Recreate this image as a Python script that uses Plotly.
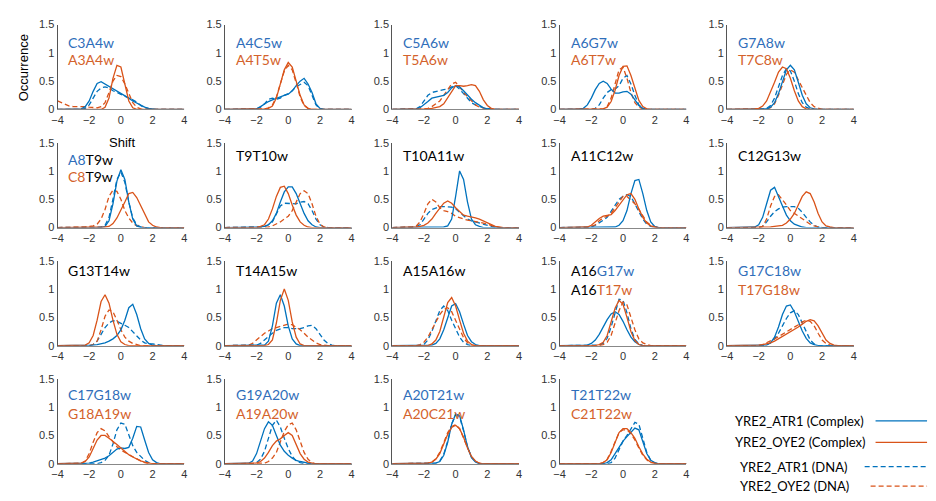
import plotly.graph_objects as go

# ---------------- data (x grid step 0.25, each curve = (start_x, values)) ----------------
STEP = 0.25
X_MIN, X_MAX = -4, 4

PANEL_NAMES = ["C3A4w", "A4C5w", "C5A6w", "A6G7w", "G7A8w",
               "A8T9w", "T9T10w", "T10A11w", "A11C12w", "C12G13w",
               "G13T14w", "T14A15w", "A15A16w", "A16G17w", "G17C18w",
               "C17G18w", "G19A20w", "A20T21w", "T21T22w"]

# labels: list of lines; each line = list of (text, colorkey)
LABELS = [
    [[("C3A4w", "b")], [("A3A4w", "o")]],
    [[("A4C5w", "b")], [("A4T5w", "o")]],
    [[("C5A6w", "b")], [("T5A6w", "o")]],
    [[("A6G7w", "b")], [("A6T7w", "o")]],
    [[("G7A8w", "b")], [("T7C8w", "o")]],
    [[("A8", "b"), ("T9w", "k")], [("C8", "o"), ("T9w", "k")]],
    [[("T9T10w", "k")]],
    [[("T10A11w", "k")]],
    [[("A11C12w", "k")]],
    [[("C12G13w", "k")]],
    [[("G13T14w", "k")]],
    [[("T14A15w", "k")]],
    [[("A15A16w", "k")]],
    [[("A16", "k"), ("G17w", "b")], [("A16", "k"), ("T17w", "o")]],
    [[("G17C18w", "b")], [("T17G18w", "o")]],
    [[("C17G18w", "b")], [("G18A19w", "o")]],
    [[("G19A20w", "b")], [("A19A20w", "o")]],
    [[("A20T21w", "b")], [("A20C21w", "o")]],
    [[("T21T22w", "b")], [("C21T22w", "o")]],
]

# YRE2_ATR1 (Complex) - solid blue
ATR1_COMPLEX = [
    (-2.5, [0.01,0.05,0.15,0.32,0.46,0.49,0.45,0.40,0.36,0.32,0.29,0.25,0.20,0.15,0.11,0.07,0.04,0.02,0.01]),
    (-2.0, [0.01,0.05,0.1,0.14,0.17,0.2,0.22,0.25,0.27,0.33,0.42,0.5,0.55,0.45,0.3,0.1,0.02]),
    (-2.5, [0.01,0.03,0.08,0.14,0.2,0.22,0.24,0.25,0.3,0.38,0.42,0.4,0.33,0.25,0.18,0.12,0.07,0.03,0.01]),
    (-2.75, [0.01,0.02,0.08,0.2,0.35,0.46,0.5,0.46,0.36,0.29,0.29,0.31,0.32,0.27,0.16,0.07,0.02]),
    (-1.5, [0.01,0.04,0.12,0.28,0.5,0.7,0.78,0.7,0.48,0.25,0.1,0.03,0.01]),
    (-1.0, [0.02,0.12,0.42,0.82,1.02,0.85,0.45,0.15,0.03]),
    (-1.75, [0.01,0.02,0.05,0.12,0.25,0.45,0.63,0.72,0.72,0.6,0.42,0.25,0.12,0.05,0.01]),
    (-0.75, [0.01,0.03,0.15,0.55,1.0,0.85,0.45,0.15,0.05,0.02]),
    (-0.5, [0.01,0.04,0.12,0.3,0.6,0.83,0.85,0.6,0.3,0.1,0.02]),
    (-2.25, [0.01,0.05,0.18,0.42,0.66,0.71,0.56,0.38,0.22,0.12,0.06,0.03,0.01]),
    (-2.0, [0.01,0.01,0.02,0.03,0.05,0.08,0.12,0.18,0.28,0.45,0.67,0.73,0.55,0.3,0.12,0.04,0.01]),
    (-1.5, [0.01,0.08,0.35,0.75,0.9,0.7,0.35,0.12,0.03]),
    (-1.5, [0.01,0.04,0.12,0.28,0.5,0.7,0.74,0.6,0.38,0.18,0.07,0.02]),
    (-2.25, [0.01,0.04,0.1,0.2,0.33,0.46,0.56,0.6,0.55,0.43,0.28,0.15,0.07,0.02]),
    (-1.5, [0.01,0.05,0.15,0.33,0.55,0.7,0.72,0.6,0.42,0.26,0.13,0.05,0.02]),
    (-2.0, [0.01,0.03,0.05,0.08,0.1,0.14,0.2,0.26,0.28,0.27,0.29,0.45,0.66,0.65,0.42,0.2,0.07,0.02]),
    (-2.5, [0.01,0.05,0.18,0.4,0.62,0.74,0.68,0.5,0.33,0.22,0.15,0.1,0.06,0.04,0.02,0.01]),
    (-1.25, [0.01,0.04,0.15,0.38,0.7,0.88,0.85,0.6,0.3,0.11,0.03]),
    (-1.0, [0.02,0.07,0.18,0.3,0.4,0.48,0.55,0.63,0.6,0.4,0.18,0.06,0.02]),
]

# YRE2_OYE2 (Complex) - solid orange
OYE2_COMPLEX = [
    (-1.0, [0.04,0.2,0.55,0.78,0.75,0.45,0.15,0.03]),
    (-1.5, [0.01,0.02,0.06,0.2,0.45,0.7,0.83,0.75,0.5,0.25,0.08,0.02]),
    (-2.0, [0.01,0.01,0.02,0.03,0.05,0.1,0.2,0.32,0.42,0.42,0.41,0.42,0.44,0.42,0.32,0.17,0.07,0.02]),
    (-1.5, [0.01,0.01,0.04,0.14,0.34,0.6,0.76,0.77,0.6,0.36,0.16,0.05,0.01]),
    (-2.25, [0.01,0.02,0.06,0.15,0.3,0.48,0.66,0.75,0.72,0.55,0.33,0.15,0.05,0.01]),
    (-1.0, [0.01,0.02,0.07,0.17,0.3,0.45,0.6,0.62,0.53,0.38,0.22,0.1,0.04,0.01]),
    (-1.75, [0.02,0.05,0.15,0.33,0.55,0.71,0.73,0.6,0.4,0.22,0.1,0.04,0.01]),
    (-2.5, [0.01,0.02,0.04,0.08,0.15,0.25,0.35,0.43,0.47,0.43,0.35,0.28,0.22,0.2,0.19,0.17,0.15,0.12,0.09,0.05,0.02,0.01]),
    (-2.5, [0.01,0.01,0.04,0.1,0.16,0.2,0.21,0.23,0.3,0.4,0.5,0.58,0.6,0.5,0.33,0.18,0.08,0.03,0.01]),
    (-1.5, [0.01,0.01,0.02,0.03,0.04,0.08,0.15,0.25,0.4,0.55,0.63,0.6,0.45,0.25,0.1,0.03,0.01]),
    (-2.25, [0.01,0.05,0.18,0.45,0.78,0.9,0.75,0.45,0.2,0.07,0.02]),
    (-1.25, [0.02,0.1,0.4,0.8,1.0,0.8,0.42,0.15,0.03]),
    (-1.5, [0.03,0.1,0.25,0.5,0.76,0.85,0.7,0.45,0.22,0.08,0.02]),
    (-1.5, [0.02,0.06,0.18,0.4,0.66,0.8,0.73,0.5,0.25,0.09,0.02]),
    (-2.0, [0.01,0.02,0.03,0.05,0.08,0.12,0.17,0.21,0.25,0.29,0.33,0.38,0.43,0.46,0.44,0.35,0.22,0.1,0.04,0.01]),
    (-2.5, [0.01,0.04,0.12,0.27,0.42,0.5,0.5,0.45,0.4,0.34,0.28,0.22,0.16,0.12,0.08,0.05,0.03,0.01]),
    (-2.0, [0.01,0.04,0.1,0.2,0.32,0.4,0.44,0.5,0.55,0.5,0.35,0.18,0.08,0.03,0.01]),
    (-1.75, [0.01,0.03,0.08,0.18,0.35,0.52,0.64,0.68,0.62,0.47,0.28,0.13,0.05,0.01]),
    (-1.25, [0.02,0.07,0.2,0.38,0.55,0.62,0.62,0.55,0.45,0.3,0.17,0.08,0.03,0.01]),
]

# YRE2_ATR1 (DNA) - dashed blue
ATR1_DNA = [
    (-2.25, [0.02,0.08,0.2,0.32,0.38,0.4,0.38,0.33,0.3,0.27,0.24,0.2,0.17,0.13,0.07,0.03,0.01]),
    (-2.0, [0.01,0.04,0.1,0.18,0.2,0.18,0.2,0.25,0.28,0.33,0.4,0.44,0.48,0.42,0.25,0.08,0.01]),
    (-2.5, [0.01,0.05,0.15,0.25,0.3,0.32,0.34,0.35,0.36,0.4,0.42,0.36,0.28,0.2,0.12,0.08,0.05,0.03,0.02,0.01,0.01]),
    (-1.75, [0.02,0.08,0.2,0.3,0.35,0.36,0.42,0.55,0.6,0.45,0.25,0.08,0.02]),
    (-1.5, [0.02,0.07,0.2,0.4,0.6,0.72,0.68,0.5,0.28,0.12,0.04,0.01]),
    (-1.25, [0.01,0.04,0.18,0.5,0.85,0.98,0.8,0.45,0.17,0.05,0.01]),
    (-1.75, [0.01,0.02,0.05,0.1,0.25,0.38,0.43,0.43,0.42,0.42,0.45,0.46,0.42,0.3,0.15,0.05,0.01]),
    (-2.75, [0.01,0.02,0.05,0.15,0.25,0.32,0.35,0.37,0.37,0.37,0.36,0.33,0.27,0.2,0.15,0.12,0.1,0.08,0.05,0.03,0.02,0.01]),
    (-2.0, [0.01,0.04,0.08,0.13,0.18,0.28,0.4,0.5,0.55,0.58,0.55,0.42,0.28,0.15,0.06,0.02]),
    (-1.75, [0.02,0.1,0.2,0.28,0.33,0.36,0.37,0.37,0.37,0.34,0.27,0.18,0.1,0.04,0.01]),
    (-1.75, [0.02,0.08,0.2,0.32,0.4,0.44,0.43,0.4,0.36,0.32,0.25,0.18,0.1,0.05,0.03,0.03,0.02,0.01]),
    (-2.0, [0.01,0.04,0.1,0.17,0.22,0.27,0.3,0.32,0.32,0.3,0.3,0.3,0.32,0.35,0.36,0.3,0.2,0.1,0.04,0.01]),
    (-2.0, [0.02,0.1,0.25,0.45,0.62,0.7,0.62,0.45,0.3,0.15,0.06,0.02]),
    (-1.5, [0.01,0.04,0.13,0.33,0.6,0.82,0.8,0.58,0.3,0.11,0.03]),
    (-1.5, [0.02,0.05,0.12,0.22,0.35,0.48,0.58,0.62,0.55,0.4,0.22,0.1,0.03]),
    (-1.25, [0.02,0.06,0.15,0.35,0.6,0.72,0.7,0.52,0.32,0.2,0.12,0.06,0.02]),
    (-2.0, [0.02,0.08,0.22,0.45,0.68,0.77,0.65,0.45,0.27,0.13,0.05,0.02]),
    (-1.25, [0.01,0.05,0.17,0.4,0.7,0.86,0.83,0.58,0.3,0.12,0.04]),
    (-0.75, [0.02,0.1,0.25,0.4,0.5,0.62,0.73,0.7,0.45,0.2,0.06,0.01]),
]

# YRE2_OYE2 (DNA) - dashed orange
OYE2_DNA = [
    (-4.0, [0.15,0.12,0.08,0.06,0.05,0.05,0.06,0.05,0.04,0.03,0.03,0.05,0.12,0.3,0.5,0.6,0.58,0.45,0.27,0.12,0.04,0.01]),
    (-1.5, [0.01,0.03,0.08,0.22,0.45,0.68,0.78,0.7,0.47,0.22,0.07,0.02]),
    (-2.0, [0.01,0.02,0.05,0.1,0.15,0.25,0.35,0.45,0.48,0.4,0.3,0.22,0.14,0.08,0.04,0.02,0.01]),
    (-1.25, [0.01,0.05,0.2,0.45,0.7,0.75,0.55,0.3,0.12,0.04,0.01]),
    (-1.5, [0.01,0.03,0.1,0.25,0.45,0.62,0.7,0.66,0.52,0.38,0.25,0.12,0.05,0.02]),
    (-2.25, [0.01,0.02,0.03,0.06,0.15,0.32,0.55,0.66,0.64,0.5,0.3,0.17,0.08,0.03,0.01]),
    (-1.25, [0.01,0.03,0.06,0.1,0.15,0.2,0.3,0.45,0.6,0.65,0.6,0.42,0.2,0.06,0.01]),
    (-2.75, [0.01,0.02,0.1,0.25,0.42,0.5,0.45,0.35,0.3,0.28,0.25,0.2,0.17,0.15,0.13,0.12,0.11,0.1,0.08,0.06,0.03,0.01]),
    (-2.0, [0.02,0.05,0.12,0.17,0.2,0.25,0.35,0.45,0.55,0.55,0.48,0.42,0.32,0.2,0.1,0.04,0.01]),
    (-1.75, [0.02,0.15,0.38,0.55,0.58,0.5,0.4,0.3,0.25,0.2,0.15,0.1,0.06,0.03,0.01]),
    (-1.75, [0.02,0.08,0.28,0.52,0.63,0.6,0.45,0.28,0.15,0.08,0.04,0.02]),
    (-2.5, [0.01,0.04,0.1,0.17,0.22,0.26,0.3,0.32,0.34,0.36,0.38,0.37,0.33,0.28,0.22,0.15,0.1,0.05,0.02,0.01]),
    (-2.25, [0.02,0.06,0.15,0.28,0.42,0.55,0.64,0.67,0.6,0.45,0.28,0.14,0.05,0.01]),
    (-1.25, [0.02,0.06,0.18,0.38,0.62,0.77,0.72,0.5,0.28,0.12,0.05,0.02]),
    (-1.75, [0.02,0.05,0.08,0.12,0.16,0.2,0.24,0.28,0.32,0.37,0.42,0.45,0.43,0.35,0.22,0.1,0.04,0.01]),
    (-2.5, [0.01,0.05,0.18,0.38,0.55,0.62,0.58,0.48,0.38,0.3,0.24,0.2,0.16,0.12,0.08,0.05,0.02]),
    (-1.5, [0.01,0.04,0.1,0.2,0.37,0.57,0.69,0.72,0.6,0.4,0.2,0.08,0.02]),
    (-1.75, [0.01,0.03,0.09,0.2,0.37,0.55,0.66,0.69,0.62,0.46,0.27,0.12,0.04,0.01]),
    (-1.25, [0.02,0.08,0.22,0.4,0.55,0.6,0.6,0.53,0.42,0.28,0.15,0.07,0.02,0.01]),
]

SERIES_NAMES = ["YRE2_ATR1 (Complex)", "YRE2_OYE2 (Complex)", "YRE2_ATR1 (DNA)", "YRE2_OYE2 (DNA)"]
X_TICKS = [-4, -2, 0, 2, 4]
Y_TICKS = [0, 0.5, 1, 1.5]
Y_TICK_TEXT = ["0", "0.5", "1", "1.5"]

# ---------------- styling ----------------
W, H = 936, 501
BLUE, ORANGE = "#0072BD", "#D95319"
TXT = {"b": "#2F6EBA", "o": "#D4622B", "k": "#000000"}
LABEL_FONT = "Lato, Calibri, 'Open Sans', sans-serif"
TICK_FONT = "'Liberation Sans', Arial, sans-serif"

PANEL_W, PANEL_H = 128, 87
COL_LEFT = [52, 221, 390, 559, 728]
ROW_TOP = [19, 140, 261, 382]
LABEL_OFFSETS = {0: (18, 36), 1: (17, 35), 2: (10, 29), 3: (16, 36)}
SINGLE_OFFSETS = {1: 13, 2: 10}


def px(x):
    return x / W


def py(y):
    return 1 - y / H


def expand(curve):
    start, vals = curve
    xs = [start + STEP * i for i in range(len(vals))]
    ys = list(vals)
    if start > X_MIN:
        xs = [X_MIN, start - STEP] + xs
        ys = [0, 0] + ys
    end = xs[-1]
    if end < X_MAX:
        xs = xs + [end + STEP, X_MAX]
        ys = ys + [0, 0]
    return xs, ys


fig = go.Figure()
layout = {}
annotations = []

styles = [
    (ATR1_COMPLEX, BLUE, "solid"),
    (OYE2_COMPLEX, ORANGE, "solid"),
    (ATR1_DNA, BLUE, "5px,3px"),
    (OYE2_DNA, ORANGE, "5px,3px"),
]

for i, name in enumerate(PANEL_NAMES):
    r, c = divmod(i, 5)
    n = i + 1
    xa = "x" if n == 1 else f"x{n}"
    ya = "y" if n == 1 else f"y{n}"
    left, top = COL_LEFT[c], ROW_TOP[r]
    # draw order: dashed first, solid on top
    for k in [2, 3, 0, 1]:
        data, col, dash = styles[k]
        xs, ys = expand(data[i])
        fig.add_trace(go.Scatter(
            x=xs, y=ys, mode="lines", xaxis=xa, yaxis=ya, showlegend=False,
            name=SERIES_NAMES[k], hoverinfo="skip",
            line=dict(color=col, width=1.3, dash=dash)))
    axis_common = dict(showgrid=False, zeroline=False, showline=True, ticks="",
                       tickfont=dict(family=TICK_FONT, size=11, color="#333333"))
    layout[f"xaxis{n}"] = dict(
        domain=[px(left), px(left + PANEL_W)], range=[X_MIN, X_MAX],
        anchor=ya, tickvals=X_TICKS, linecolor="#888888", linewidth=1, **axis_common)
    layout[f"yaxis{n}"] = dict(
        domain=[py(top + PANEL_H), py(top)], range=[0, 1.5],
        anchor=xa, tickvals=Y_TICKS, ticktext=Y_TICK_TEXT, linecolor="#555555",
        linewidth=1, **axis_common)
    # labels
    lines = LABELS[i]
    if len(lines) == 2:
        offs = LABEL_OFFSETS[r]
    else:
        offs = (SINGLE_OFFSETS.get(r, 13),)
    for line, off in zip(lines, offs):
        txt = "".join(f"<span style='color:{TXT[ck]}'>{t}</span>" for t, ck in line)
        annotations.append(dict(
            x=px(left + 9), y=py(top + off), xref="paper", yref="paper",
            xanchor="left", yanchor="middle", showarrow=False, text=txt,
            font=dict(family=LABEL_FONT, size=14, color="#000000")))

# axis titles
annotations.append(dict(x=px(18), y=py(63), xref="paper", yref="paper", text="Occurrence",
                        textangle=-90, showarrow=False, xanchor="center", yanchor="middle",
                        font=dict(family=TICK_FONT, size=13, color="#000000")))
annotations.append(dict(x=px(117), y=py(140), xref="paper", yref="paper", text="Shift",
                        showarrow=False, xanchor="center", yanchor="middle",
                        font=dict(family=TICK_FONT, size=13, color="#000000")))

# custom legend (text then line sample)
LEG_Y = [425, 447, 472, 492]
LEG_TX = [734, 734, 739, 739]
LEG_LX = [(878, 930), (878, 930), (867, 930), (873, 930)]
shapes = []
for k in range(4):
    _, col, dash = styles[k]
    annotations.append(dict(x=px(LEG_TX[k]), y=py(LEG_Y[k]), xref="paper", yref="paper",
                            text=SERIES_NAMES[k], showarrow=False, xanchor="left",
                            yanchor="middle",
                            font=dict(family=LABEL_FONT, size=13, color="#000000")))
    shapes.append(dict(type="line", xref="paper", yref="paper",
                       x0=px(LEG_LX[k][0]), x1=px(LEG_LX[k][1]),
                       y0=py(LEG_Y[k]), y1=py(LEG_Y[k]),
                       line=dict(color=col, width=1.3, dash=dash)))

fig.update_layout(
    width=W, height=H, margin=dict(l=0, r=0, t=0, b=0),
    paper_bgcolor="white", plot_bgcolor="white", showlegend=False,
    annotations=annotations, shapes=shapes, **layout)

fig.write_html("out.html")
